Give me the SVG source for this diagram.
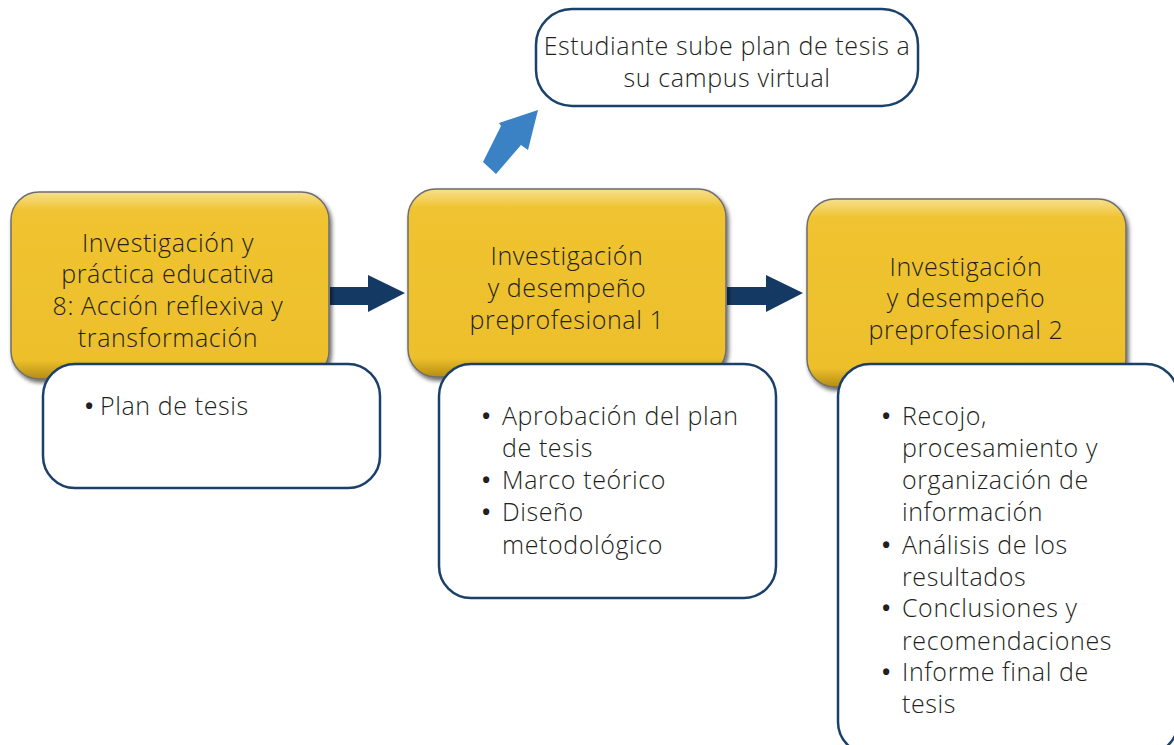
<svg xmlns="http://www.w3.org/2000/svg" width="1174" height="745" viewBox="0 0 1174 745">
<style>
text{font-family:"Open Sans","Liberation Sans",sans-serif;font-size:25px;font-weight:300;letter-spacing:0.6px;fill:#231f20}
.c{text-anchor:middle}
.b{font-weight:700;font-size:22px}
.gold{fill:url(#gg);stroke:#6e6e6e;stroke-width:1.5;filter:url(#sh)}
.wb{fill:#fff;stroke:#1b416b;stroke-width:2.5}
.nav{fill:#143a63}
</style>
<defs>
<linearGradient id="gg" x1="0" y1="0" x2="0" y2="1">
<stop offset="0" stop-color="#f7e08f"/>
<stop offset="0.1" stop-color="#efc330"/>
<stop offset="0.9" stop-color="#edbf2c"/>
<stop offset="1" stop-color="#b58d14"/>
</linearGradient>
<filter id="sh" x="-10%" y="-10%" width="125%" height="130%">
<feGaussianBlur in="SourceAlpha" stdDeviation="2"/>
<feOffset dx="2" dy="3"/>
<feComponentTransfer><feFuncA type="linear" slope="0.6"/></feComponentTransfer>
<feMerge><feMergeNode/><feMergeNode in="SourceGraphic"/></feMerge>
</filter>
</defs>
<g id="connectors">
<polygon class="nav" points="330,287 368,287 368,275 405,293 368,312 368,305 330,305"/>
<polygon class="nav" points="727,287 766,287 766,275 803,293 766,312 766,305 727,305"/>
<polygon fill="#3b82c4" points="483,162 501,126 499,123 538,110 528,150 521,145 496,174"/>
</g>
<g id="node-top">
<rect class="wb" x="536" y="9" width="382" height="97" rx="36"/>
<text class="c" x="727" y="55">Estudiante sube plan de tesis a</text>
<text class="c" x="727" y="87">su campus virtual</text>
</g>
<g id="node-g1">
<rect class="gold" x="11" y="192" width="318" height="187" rx="28"/>
<text class="c" x="168" y="252">Investigación y</text>
<text class="c" x="168" y="283">práctica educativa</text>
<text class="c" x="168" y="315">8: Acción reflexiva y</text>
<text class="c" x="168" y="347">transformación</text>
</g>
<g id="node-g2">
<rect class="gold" x="408" y="189" width="318" height="188" rx="28"/>
<text class="c" x="567" y="265">Investigación</text>
<text class="c" x="567" y="297">y desempeño</text>
<text class="c" x="567" y="329">preprofesional 1</text>
</g>
<g id="node-g3">
<rect class="gold" x="807" y="199" width="319" height="188" rx="28"/>
<text class="c" x="966" y="276">Investigación</text>
<text class="c" x="966" y="307">y desempeño</text>
<text class="c" x="966" y="339">preprofesional 2</text>
</g>
<g id="node-w1">
<rect class="wb" x="43" y="364" width="337" height="124" rx="32"/>
<text class="b" x="85" y="414">•</text><text x="100" y="415">Plan de tesis</text>
</g>
<g id="node-w2">
<rect class="wb" x="439" y="364" width="337" height="234" rx="32"/>
<text class="b" x="482" y="424">•</text><text x="502" y="425">Aprobación del plan</text>
<text x="502" y="457">de tesis</text>
<text class="b" x="482" y="488">•</text><text x="502" y="489">Marco teórico</text>
<text class="b" x="482" y="520">•</text><text x="502" y="521">Diseño</text>
<text x="502" y="554">metodológico</text>
</g>
<g id="node-w3">
<rect class="wb" x="838" y="364" width="340" height="390" rx="32"/>
<text class="b" x="882" y="424">•</text><text x="902" y="425">Recojo,</text>
<text x="902" y="457">procesamiento y</text>
<text x="902" y="489">organización de</text>
<text x="902" y="521">información</text>
<text class="b" x="882" y="553">•</text><text x="902" y="554">Análisis de los</text>
<text x="902" y="586">resultados</text>
<text class="b" x="882" y="616">•</text><text x="902" y="617">Conclusiones y</text>
<text x="902" y="650">recomendaciones</text>
<text class="b" x="882" y="680">•</text><text x="902" y="681">Informe final de</text>
<text x="902" y="713">tesis</text>
</g>
</svg>
